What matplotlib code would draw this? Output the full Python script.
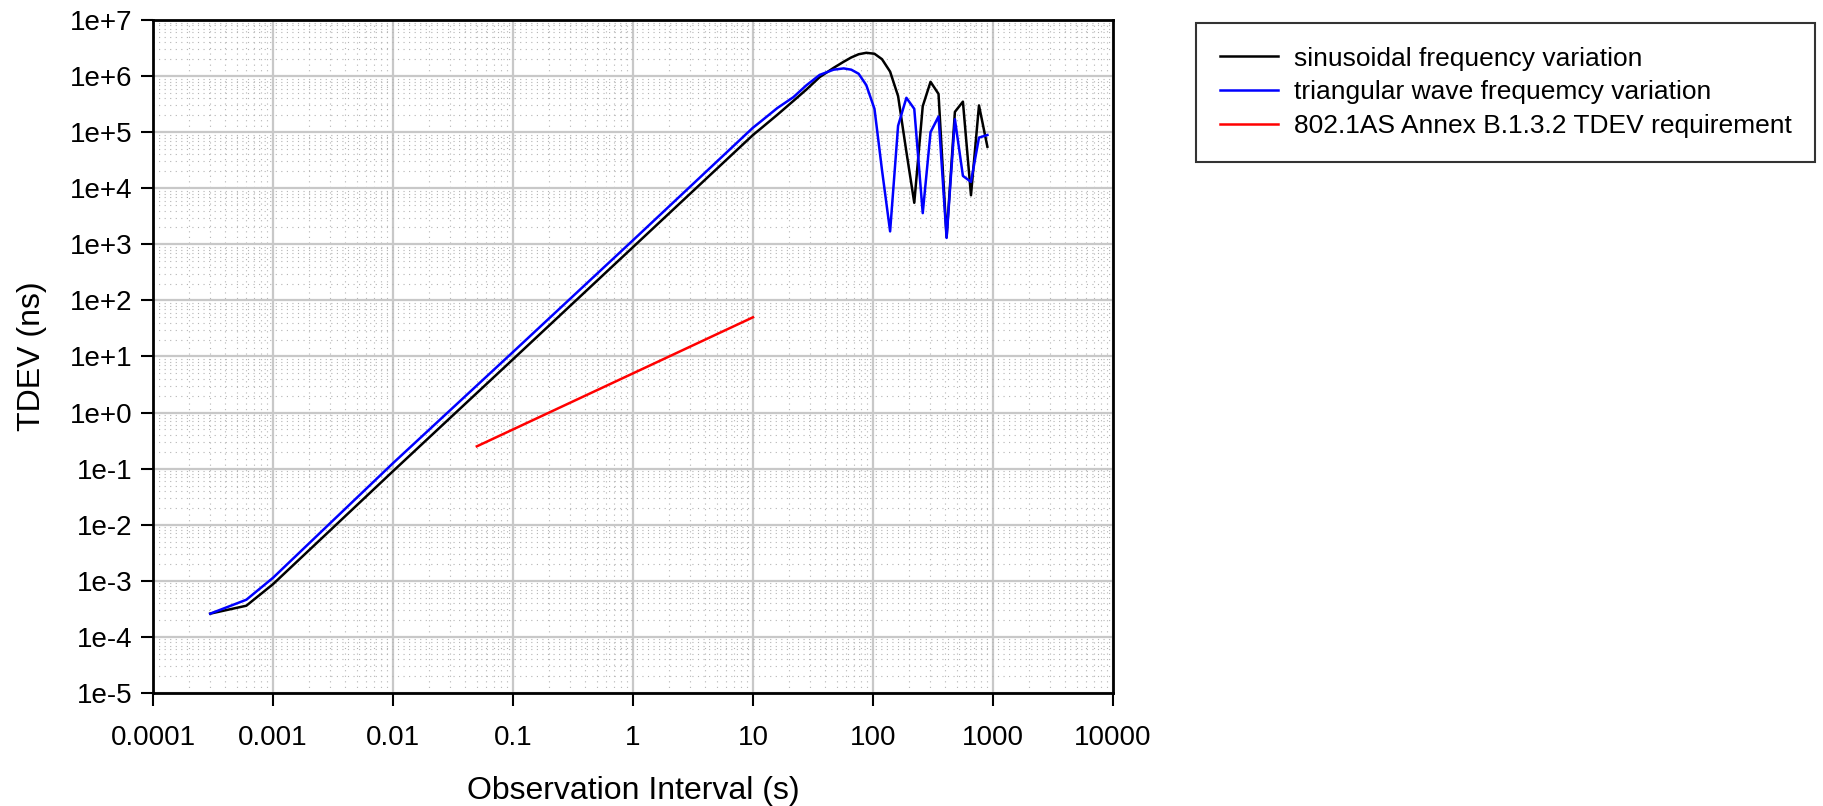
import numpy as np
import matplotlib.pyplot as plt
from matplotlib.ticker import FixedLocator, FuncFormatter, LogLocator, NullFormatter

plt.rcParams['font.family'] = ['Liberation Sans', 'DejaVu Sans']

# sinusoidal frequency variation (black)
sin_tau = [3e-4, 6e-4, 1e-3, 1e-2, 1e-1, 1, 10, 11.4, 16, 21.7, 28, 36, 47, 57, 66, 76, 88,
           103, 119, 139, 162, 189, 221, 260, 302, 352, 411, 482, 562, 656, 765, 899]
sin_tdev = [2.6e-4, 3.6e-4, 8.7e-4, 9e-2, 8.9, 890, 8.9e4, 1.12e5, 2.05e5, 3.6e5, 5.8e5, 9.6e5,
            1.4e6, 1.8e6, 2.15e6, 2.45e6, 2.6e6,
            2.5e6, 2.0e6, 1.2e6, 4.4e5, 4.8e4, 5.5e3, 2.9e5, 7.9e5, 4.8e5, 1.35e3, 2.3e5,
            3.5e5, 7.5e3, 3.0e5, 5.5e4]

# triangular wave frequency variation (blue)
tri_tau = [3e-4, 6e-4, 1e-3, 1e-2, 1e-1, 1, 10, 11.4, 16, 21.7, 28, 36, 47, 57, 66, 76, 88,
           103, 119, 139, 162, 190, 221, 260, 302, 352, 411, 482, 562, 656, 765, 899]
tri_tdev = [2.6e-4, 4.6e-4, 1.13e-3, 0.125, 12, 1.18e3, 1.2e5, 1.5e5, 2.7e5, 4.2e5, 6.9e5,
            1.05e6, 1.3e6, 1.37e6, 1.3e6, 1.1e6, 6.9e5,
            2.6e5, 2.1e4, 1.7e3, 1.3e5, 4.1e5, 2.6e5, 3.6e3, 1.0e5, 1.9e5, 1.3e3, 1.7e5,
            1.66e4, 1.3e4, 8e4, 8.9e4]

# 802.1AS Annex B.1.3.2 TDEV requirement (red)
req_tau = [0.05, 10]
req_tdev = [0.25, 50]

x_ticks = [1e-4, 1e-3, 1e-2, 1e-1, 1, 10, 100, 1000, 10000]
x_labels = ['0.0001', '0.001', '0.01', '0.1', '1', '10', '100', '1000', '10000']

fig = plt.figure(figsize=(18.23, 8.06), dpi=100)
ax = fig.add_axes([0.0839, 0.1402, 0.5266, 0.835])

ax.plot(sin_tau, sin_tdev, color='black', lw=1.8, label='sinusoidal frequency variation')
ax.plot(tri_tau, tri_tdev, color='#0000ff', lw=1.8, label='triangular wave frequemcy variation')
ax.plot(req_tau, req_tdev, color='#ff0000', lw=1.8, label='802.1AS Annex B.1.3.2 TDEV requirement')

ax.set_xscale('log')
ax.set_yscale('log')
ax.set_xlim(1e-4, 1e4)
ax.set_ylim(1e-5, 1e7)

ax.xaxis.set_major_locator(FixedLocator(x_ticks))
ax.set_xticklabels(x_labels)
ax.yaxis.set_major_locator(FixedLocator([10.0 ** k for k in range(-5, 8)]))
ax.yaxis.set_major_formatter(FuncFormatter(lambda v, p: '1e%+d' % int(round(np.log10(v)))))
for axis in (ax.xaxis, ax.yaxis):
    axis.set_minor_locator(LogLocator(base=10, subs=np.arange(2, 10), numticks=100))
    axis.set_minor_formatter(NullFormatter())

ax.grid(True, which='major', color='#c8c8c8', lw=1.6, ls='-')
ax.grid(True, which='minor', color='#b4b4b4', lw=0.8, ls=(0, (1, 4)))
ax.set_axisbelow(True)

ax.tick_params(which='major', direction='out', length=9, width=1.5, labelsize=20)
ax.tick_params(axis='x', which='major', pad=14)
ax.tick_params(axis='y', which='major', pad=6)
ax.tick_params(which='minor', length=0)
for s in ax.spines.values():
    s.set_linewidth(2)
    s.set_color('black')

ax.set_xlabel('Observation Interval (s)', fontsize=23, labelpad=18)
ax.set_ylabel('TDEV (ns)', fontsize=23, labelpad=16)

leg = fig.legend(loc='upper left', bbox_to_anchor=(0.656, 0.9715), fontsize=19,
                 frameon=True, fancybox=False, edgecolor='black', handlelength=2.2,
                 borderpad=0.9, labelspacing=0.37, handletextpad=0.6, borderaxespad=0)
leg.get_frame().set_linewidth(1.5)

fig.savefig('out.png', dpi=100)
